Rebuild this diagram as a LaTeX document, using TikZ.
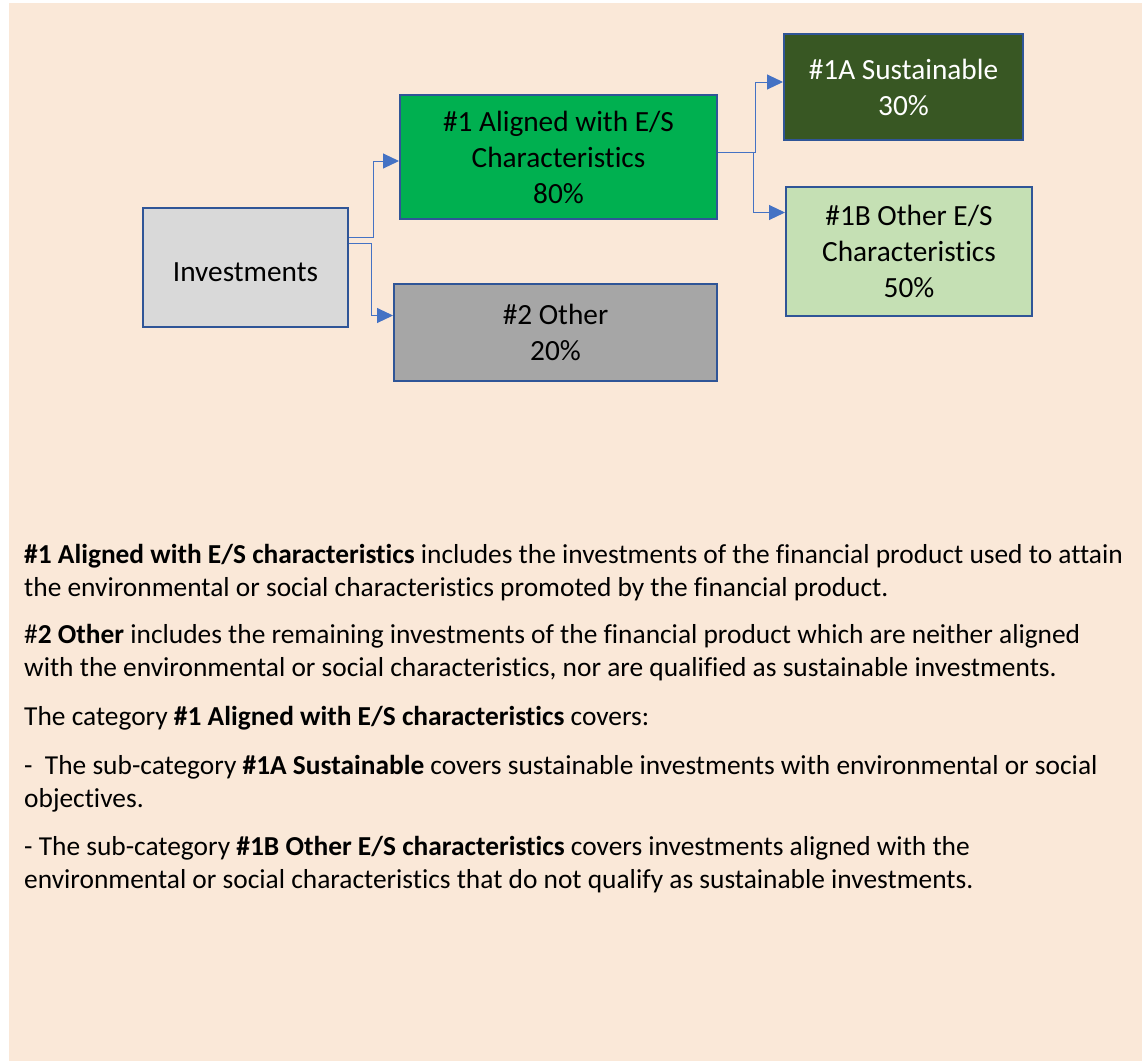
\documentclass[tikz,border=0pt]{standalone}
\usepackage{fontspec}
\setmainfont{Carlito}[Ligatures=CommonOff]
\usetikzlibrary{arrows.meta,calc}
\definecolor{bgbeige}{RGB}{250,232,216}
\definecolor{boxborder}{RGB}{47,85,151}
\definecolor{connblue}{RGB}{68,114,196}
\definecolor{invgray}{RGB}{217,217,217}
\definecolor{alignedgreen}{RGB}{0,176,80}
\definecolor{othergray}{RGB}{166,166,166}
\definecolor{sustgreen}{RGB}{56,87,35}
\definecolor{esgreen}{RGB}{197,224,180}
\tikzset{
  catbox/.style={draw=boxborder, line width=2pt, rectangle, inner sep=0pt, align=center,
    font=\fontsize{29.3}{36}\selectfont},
  conn/.style={draw=connblue, line width=1pt, -{Triangle[length=16pt,width=15pt]}},
  bodyline/.style={anchor=base west, inner sep=0pt, font=\fontsize{27.4}{33}\selectfont}
}
\begin{document}
\begin{tikzpicture}[x=1pt,y=-1pt]
\useasboundingbox (0,0) rectangle (1142,1061);
\fill[bgbeige] (9,3) rectangle (1142,1061);

\node[catbox, fill=invgray, minimum width=205pt, minimum height=119pt] (inv) at (245.5,267.5) {\raisebox{-14pt}[0pt][0pt]{Investments}};
\node[catbox, fill=alignedgreen, minimum width=317pt, minimum height=124pt] (aligned) at (558.5,157) {\#1 Aligned with E/S\\Characteristics\\80\%};
\node[catbox, fill=othergray, minimum width=323pt, minimum height=97pt] (other) at (555.5,332.5) {\#2 Other\\20\%};
\node[catbox, fill=sustgreen, text=white, minimum width=239pt, minimum height=106pt] (sust) at (903.5,87) {\#1A Sustainable\\30\%};
\node[catbox, fill=esgreen, minimum width=246pt, minimum height=129pt] (oth1b) at (909,251.5) {\#1B Other E/S\\Characteristics\\50\%};

\draw[conn] ($(inv.east)+(0,-30)$) -- ++(24,0) |- ($(aligned.west)+(0,4)$);
\draw[conn] ($(inv.east)+(0,-24)$) -- ++(22,0) |- ($(other.west)+(0,-17)$);
\draw[conn] ($(aligned.east)+(0,-5)$) -- ++(37,0) |- ($(sust.west)+(0,-5)$);
\draw[conn] ($(aligned.east)+(0,-5)$) -- ++(35,0) |- ($(oth1b.west)+(0,-39)$);

\node[bodyline] (p1a) at (24,563) {\textbf{\#1 Aligned with E/S characteristics} includes the investments of the financial product used to attain};
\node[bodyline] (p1b) at (24,596) {the environmental or social characteristics promoted by the financial product.};
\node[bodyline] (p2a) at (24,643) {\#\textbf{2 Other} includes the remaining investments of the financial product which are neither aligned};
\node[bodyline] (p2b) at (24,676) {with the environmental or social characteristics, nor are qualified as sustainable investments.};
\node[bodyline] (p3a) at (24,725) {The category \textbf{\#1 Aligned with E/S characteristics} covers:};
\node[bodyline] (p4a) at (24,774) {-\ \ The sub-category \textbf{\#1A Sustainable} covers sustainable investments with environmental or social};
\node[bodyline] (p4b) at (24,807) {objectives.};
\node[bodyline] (p5a) at (24,855) {- The sub-category \textbf{\#1B Other E/S characteristics} covers investments aligned with the};
\node[bodyline] (p5b) at (24,888) {environmental or social characteristics that do not qualify as sustainable investments.};
\end{tikzpicture}
\end{document}
